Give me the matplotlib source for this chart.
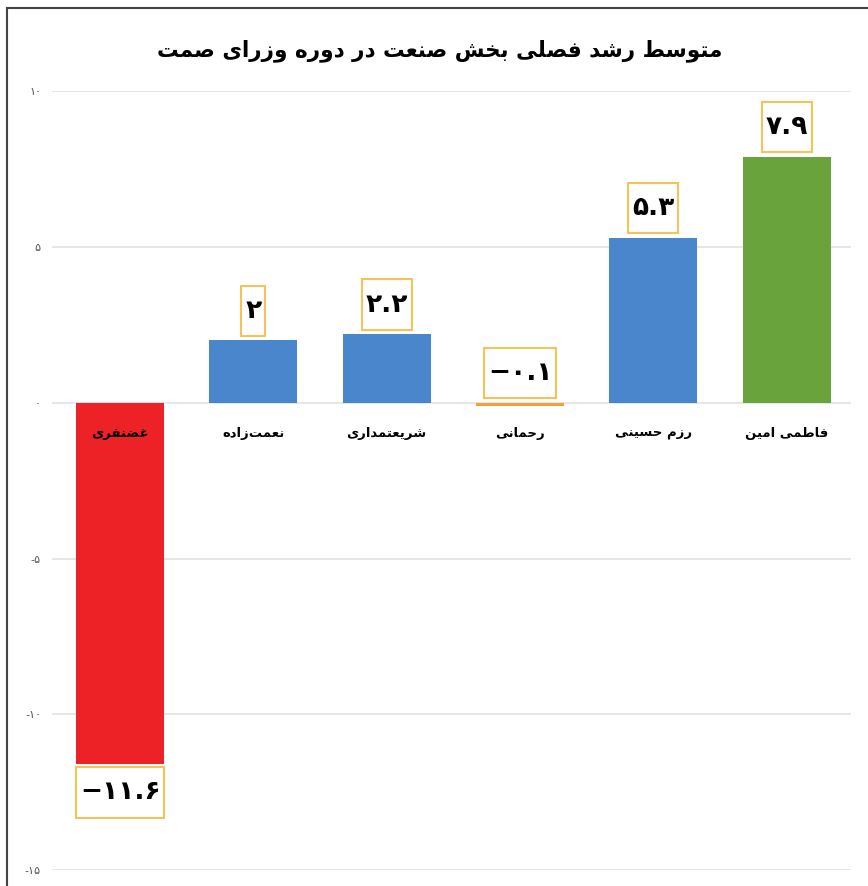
import matplotlib.pyplot as plt
from matplotlib.lines import Line2D
from matplotlib.path import Path

# data, left to right
ministers = ["غضنفری", "نعمت‌زاده", "شریعتمداری", "رحمانی", "رزم حسینی", "فاطمی امین"]
growth = [-11.6, 2.0, 2.2, -0.1, 5.3, 7.9]
value_labels = ["−۱۱.۶", "۲", "۲.۲", "−۰.۱", "۵.۳", "۷.۹"]
bar_colors = ["#EC2227", "#4A86CB", "#4A86CB", "#F0A040", "#4A86CB", "#69A33C"]
yticks = [10, 5, 0, -5, -10, -15]
ytick_labels = ["۱۰", "۵", "۰", "-۵", "-۱۰", "-۱۵"]
title = "متوسط رشد فصلی بخش صنعت در دوره وزرای صمت"

# minimal arabic shaping: (isolated, final, initial, medial)
FORMS = {
    "ا": (0xFE8D, 0xFE8E, None, None),
    "ب": (0xFE8F, 0xFE90, 0xFE91, 0xFE92),
    "ت": (0xFE95, 0xFE96, 0xFE97, 0xFE98),
    "ح": (0xFEA1, 0xFEA2, 0xFEA3, 0xFEA4),
    "خ": (0xFEA5, 0xFEA6, 0xFEA7, 0xFEA8),
    "د": (0xFEA9, 0xFEAA, None, None),
    "ر": (0xFEAD, 0xFEAE, None, None),
    "ز": (0xFEAF, 0xFEB0, None, None),
    "س": (0xFEB1, 0xFEB2, 0xFEB3, 0xFEB4),
    "ش": (0xFEB5, 0xFEB6, 0xFEB7, 0xFEB8),
    "ص": (0xFEB9, 0xFEBA, 0xFEBB, 0xFEBC),
    "ض": (0xFEBD, 0xFEBE, 0xFEBF, 0xFEC0),
    "ط": (0xFEC1, 0xFEC2, 0xFEC3, 0xFEC4),
    "ع": (0xFEC9, 0xFECA, 0xFECB, 0xFECC),
    "غ": (0xFECD, 0xFECE, 0xFECF, 0xFED0),
    "ف": (0xFED1, 0xFED2, 0xFED3, 0xFED4),
    "ل": (0xFEDD, 0xFEDE, 0xFEDF, 0xFEE0),
    "م": (0xFEE1, 0xFEE2, 0xFEE3, 0xFEE4),
    "ن": (0xFEE5, 0xFEE6, 0xFEE7, 0xFEE8),
    "ه": (0xFEE9, 0xFEEA, 0xFEEB, 0xFEEC),
    "و": (0xFEED, 0xFEEE, None, None),
    "ی": (0xFEEF, 0xFEF0, 0xFEF3, 0xFEF4),
}


def shape(text):
    chars = list(text)
    out = []
    for i, c in enumerate(chars):
        if c not in FORMS:
            if c != "\u200c":
                out.append(c)
            continue
        prev = chars[i - 1] if i > 0 else None
        nxt = chars[i + 1] if i + 1 < len(chars) else None
        join_prev = prev in FORMS and FORMS[prev][2] is not None
        join_next = FORMS[c][2] is not None and nxt in FORMS
        iso, fin, ini, med = FORMS[c]
        if join_prev and join_next:
            code = med
        elif join_prev:
            code = fin
        elif join_next:
            code = ini
        else:
            code = iso
        out.append(chr(code))
    return "".join(reversed(out))


def tall_box(x0, y0, width, height, mutation_size):
    # narrow side padding, generous top/bottom padding
    px = 0.15 * mutation_size
    py = 0.46 * mutation_size
    x0, y0 = x0 - px, y0 - py
    x1, y1 = x0 + width + 2 * px, y0 + height + 2 * py
    return Path([(x0, y0), (x1, y0), (x1, y1), (x0, y1), (x0, y0)], closed=True)


plt.rcParams["font.family"] = ["DejaVu Sans"]

fig = plt.figure(figsize=(8.68, 8.86), dpi=100)
ax = fig.add_axes([0.060, 0.018, 0.920, 0.879])

x = list(range(len(ministers)))
ax.bar(x, growth, width=0.66, color=bar_colors, zorder=3)

ax.set_ylim(-15, 10)
ax.set_xlim(-0.51, 5.48)
ax.set_yticks(yticks, ytick_labels)
ax.set_xticks([])
ax.tick_params(axis="y", length=0, labelsize=8, labelcolor="#555555", pad=8)
ax.grid(axis="y", color="#E2E2E2", linewidth=1.2, zorder=0)
for side in ax.spines.values():
    side.set_visible(False)

for xi, name in zip(x, ministers):
    ax.annotate(shape(name), (xi, 0), xytext=(0, -22), textcoords="offset points",
                ha="center", va="center", fontsize=9.5, fontweight="bold", zorder=5)

box = dict(boxstyle=tall_box, facecolor="white", edgecolor="#F7C25A", linewidth=1.5)
for xi, v, lab in zip(x, growth, value_labels):
    if v < -1:
        ax.annotate(lab, (xi, v), xytext=(0, -11), textcoords="offset points",
                    ha="center", va="top", fontsize=19, fontweight="bold", bbox=box, zorder=6)
    else:
        ax.annotate(lab, (xi, max(v, 0)), xytext=(0, 12), textcoords="offset points",
                    ha="center", va="bottom", fontsize=19, fontweight="bold", bbox=box, zorder=6)

fig.text(0.507, 0.943, shape(title), ha="center", va="center", fontsize=15.5, fontweight="bold")

# frame of the original picture
fig.add_artist(Line2D([0.008, 1.0], [0.991, 0.991], color="#444444", linewidth=1.5))
fig.add_artist(Line2D([0.008, 0.008], [0.0, 0.991], color="#444444", linewidth=1.5))

fig.savefig("out.png", dpi=100)
